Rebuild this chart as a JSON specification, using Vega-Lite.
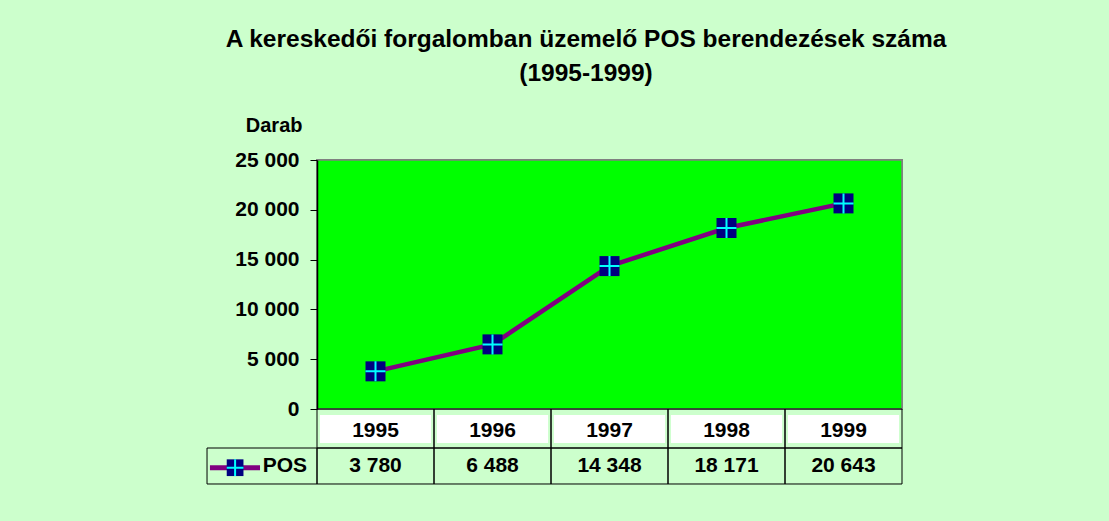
{
  "$schema": "https://vega.github.io/schema/vega-lite/v6.json",
  "width": 702,
  "height": 249,
  "autosize": {"type": "none"},
  "padding": {"left": 200, "top": 160, "right": 207, "bottom": 112},
  "background": "#CCFFCC",
  "config": {
    "view": {"stroke": null},
    "font": "Liberation Sans",
    "locale": {"number": {"decimal": ",", "thousands": " ", "grouping": [3], "currency": ["", ""]}}
  },
  "title": {
    "text": ["A kereskedői forgalomban üzemelő POS berendezések száma", "(1995-1999)"],
    "font": "Liberation Sans",
    "fontSize": 24.5,
    "fontWeight": "bold",
    "color": "black",
    "anchor": "middle",
    "dx": 35,
    "offset": 10,
    "lineHeight": 34,
    "baseline": "alphabetic"
  },
  "data": {
    "values": [
      {"year": "1995", "series": "POS", "count": 3780},
      {"year": "1996", "series": "POS", "count": 6488},
      {"year": "1997", "series": "POS", "count": 14348},
      {"year": "1998", "series": "POS", "count": 18171},
      {"year": "1999", "series": "POS", "count": 20643}
    ]
  },
  "layer": [
    {
      "mark": {"type": "rect", "fill": "#00FF00", "stroke": "#808080", "strokeWidth": 1.5},
      "encoding": {
        "x": {"datum": "1995", "type": "nominal", "bandPosition": 0,
              "scale": {"domain": ["key", "1995", "1996", "1997", "1998", "1999"], "paddingInner": 0, "paddingOuter": 0}},
        "x2": {"datum": "1999", "bandPosition": 1},
        "y": {"datum": 0, "type": "quantitative", "scale": {"domain": [0, 25000], "nice": false, "zero": false}},
        "y2": {"datum": 25000}
      }
    },
    {
      "mark": {"type": "bar", "fill": "white", "width": {"band": 0.95}},
      "encoding": {
        "x": {"field": "year", "type": "nominal"},
        "y": {"datum": -602, "type": "quantitative"},
        "y2": {"datum": -3414}
      }
    },
    {
      "mark": {"type": "rect", "fill": null, "stroke": "black", "strokeWidth": 1},
      "encoding": {
        "x": {"field": "year", "type": "nominal"},
        "y": {"datum": 0, "type": "quantitative"},
        "y2": {"datum": -3916}
      }
    },
    {
      "mark": {"type": "rect", "fill": null, "stroke": "black", "strokeWidth": 1},
      "encoding": {
        "x": {"field": "year", "type": "nominal"},
        "y": {"datum": -3916, "type": "quantitative"},
        "y2": {"datum": -7530}
      }
    },
    {
      "mark": {"type": "text", "fontSize": 21, "fontWeight": "bold", "color": "black", "baseline": "middle", "align": "center"},
      "encoding": {
        "x": {"field": "year", "type": "nominal"},
        "y": {"datum": -5723, "type": "quantitative"},
        "text": {"field": "count", "type": "quantitative", "format": ",d"}
      }
    },
    {
      "mark": {"type": "line", "color": "#800080", "strokeWidth": 4.5},
      "encoding": {
        "x": {"field": "year", "type": "nominal",
              "axis": {"orient": "bottom", "domain": false, "ticks": false, "grid": false, "title": null,
                       "bandPosition": 0.5,
                       "labelExpr": "datum.value == 'key' ? '' : datum.label",
                       "labelAngle": 0, "labelAlign": "center", "labelFontSize": 21, "labelFontWeight": "bold", "labelColor": "black",
                       "labelPadding": 10, "labelBaseline": "top", "zindex": 2}},
        "y": {"field": "count", "type": "quantitative",
              "axis": {"values": [0, 5000, 10000, 15000, 20000, 25000], "format": ",d", "offset": -117,
                       "domainColor": "black", "domainWidth": 1.5, "tickColor": "black", "tickSize": 7, "grid": false,
                       "labelFontSize": 21, "labelFontWeight": "bold", "labelColor": "black", "labelPadding": 11,
                       "title": "Darab", "titleAngle": 0, "titleAlign": "right", "titleBaseline": "alphabetic",
                       "titleX": -15, "titleY": -29, "titleFontSize": 20, "titleFontWeight": "bold", "titleColor": "black",
                       "zindex": 2}}
      }
    },
    {
      "mark": {"type": "point", "shape": "square", "filled": true, "fill": "#000080", "strokeWidth": 0, "size": 400, "opacity": 1},
      "encoding": {
        "x": {"field": "year", "type": "nominal"},
        "y": {"field": "count", "type": "quantitative"}
      }
    },
    {
      "mark": {"type": "point", "shape": "M-1,0H1M0,-1V1", "filled": false, "stroke": "#00FFFF", "strokeWidth": 2, "size": 400, "opacity": 1},
      "encoding": {
        "x": {"field": "year", "type": "nominal"},
        "y": {"field": "count", "type": "quantitative"}
      }
    },
    {
      "data": {"values": [{"series": "POS"}]},
      "layer": [
        {
          "mark": {"type": "rect", "fill": null, "stroke": "black", "strokeWidth": 1},
          "encoding": {
            "x": {"datum": "key", "type": "nominal", "bandPosition": 0.06},
            "x2": {"datum": "key", "bandPosition": 1},
            "y": {"datum": -3916, "type": "quantitative"},
            "y2": {"datum": -7530}
          }
        },
        {
          "mark": {"type": "rule", "color": "#800080", "strokeWidth": 5},
          "encoding": {
            "x": {"datum": "key", "type": "nominal", "bandPosition": 0.085},
            "x2": {"datum": "key", "bandPosition": 0.513},
            "y": {"datum": -5894, "type": "quantitative"}
          }
        },
        {
          "mark": {"type": "point", "shape": "square", "filled": true, "fill": "#000080", "strokeWidth": 0, "size": 280, "opacity": 1},
          "encoding": {
            "x": {"datum": "key", "type": "nominal", "bandPosition": 0.3},
            "y": {"datum": -5894, "type": "quantitative"}
          }
        },
        {
          "mark": {"type": "point", "shape": "M-1,0H1M0,-1V1", "filled": false, "stroke": "#00FFFF", "strokeWidth": 2, "size": 280, "opacity": 1},
          "encoding": {
            "x": {"datum": "key", "type": "nominal", "bandPosition": 0.3},
            "y": {"datum": -5894, "type": "quantitative"}
          }
        },
        {
          "mark": {"type": "text", "fontSize": 21, "fontWeight": "bold", "color": "black", "baseline": "middle", "align": "right"},
          "encoding": {
            "x": {"datum": "key", "type": "nominal", "bandPosition": 0.915},
            "y": {"datum": -5723, "type": "quantitative"},
            "text": {"field": "series"}
          }
        }
      ]
    }
  ]
}
